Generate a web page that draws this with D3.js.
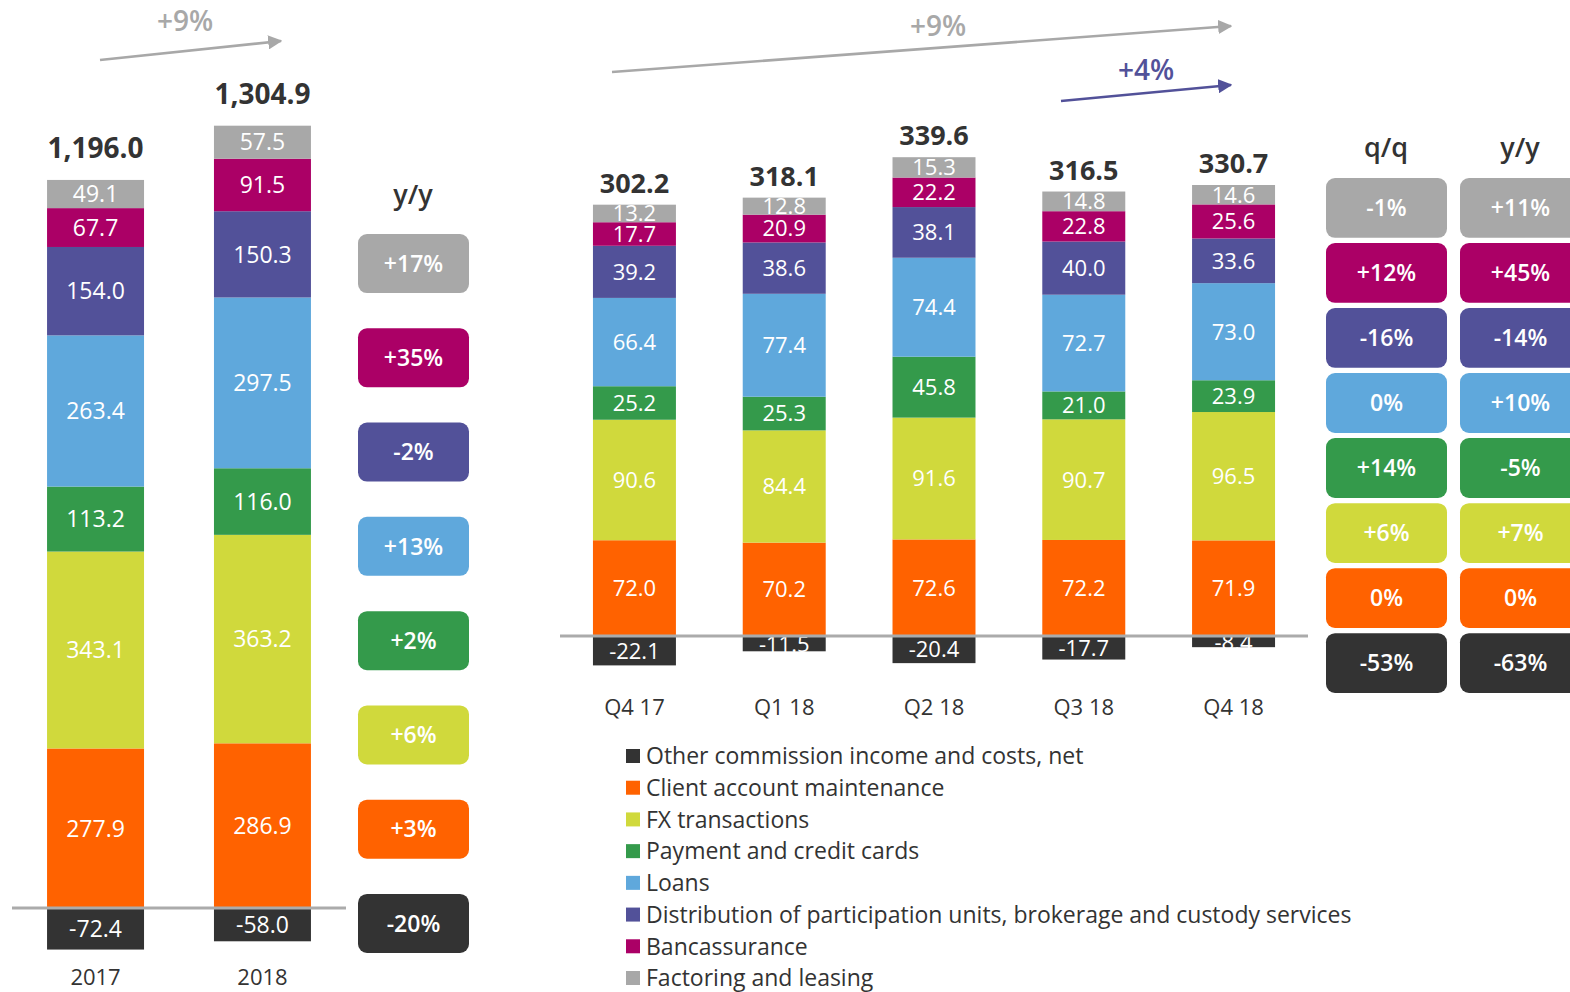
<!DOCTYPE html>
<html>
<head>
<meta charset="utf-8">
<script src="https://cdn.jsdelivr.net/npm/d3@7"></script>
<style>
  body { margin: 0; background: #fff; }
  svg { display: block; }
  text { font-family: "Open Sans", sans-serif; }
</style>
</head>
<body>
<svg id="chart" width="1570" height="992"></svg>
<script>
// series, bottom-up stacking order (= legend order)
var seriesKeys = ["other", "client", "fx", "payment", "loans", "dist", "banc", "fact"];
var seriesNames = [
  "Other commission income and costs, net",
  "Client account maintenance",
  "FX transactions",
  "Payment and credit cards",
  "Loans",
  "Distribution of participation units, brokerage and custody services",
  "Bancassurance",
  "Factoring and leasing"
];
var seriesColors = ["#333333", "#FF6200", "#D0D93C", "#349A4B", "#5FA8DC", "#525199", "#AB0066", "#A8A8A8"];

// annual
var years = ["2017", "2018"];
var yearTotals = ["1,196.0", "1,304.9"];
var other_y = [-72.4, -58.0];
var client_y = [277.9, 286.9];
var fx_y = [343.1, 363.2];
var payment_y = [113.2, 116.0];
var loans_y = [263.4, 297.5];
var dist_y = [154.0, 150.3];
var banc_y = [67.7, 91.5];
var fact_y = [49.1, 57.5];
var yoyAnnual = ["-20%", "+3%", "+6%", "+2%", "+13%", "-2%", "+35%", "+17%"];

// quarterly
var quarters = ["Q4 17", "Q1 18", "Q2 18", "Q3 18", "Q4 18"];
var quarterTotals = ["302.2", "318.1", "339.6", "316.5", "330.7"];
var other_q = [-22.1, -11.5, -20.4, -17.7, -8.4];
var client_q = [72.0, 70.2, 72.6, 72.2, 71.9];
var fx_q = [90.6, 84.4, 91.6, 90.7, 96.5];
var payment_q = [25.2, 25.3, 45.8, 21.0, 23.9];
var loans_q = [66.4, 77.4, 74.4, 72.7, 73.0];
var dist_q = [39.2, 38.6, 38.1, 40.0, 33.6];
var banc_q = [17.7, 20.9, 22.2, 22.8, 25.6];
var fact_q = [13.2, 12.8, 15.3, 14.8, 14.6];
var qoqQuarter = ["-53%", "0%", "+6%", "+14%", "0%", "-16%", "+12%", "-1%"];
var yoyQuarter = ["-63%", "0%", "+7%", "-5%", "+10%", "-14%", "+45%", "+11%"];

var color = d3.scaleOrdinal().domain(seriesKeys).range(seriesColors);
var svg = d3.select("#chart");

function buildRows(cats, cols) {
  return cats.map(function (c, i) {
    var row = { cat: c };
    seriesKeys.forEach(function (k, j) { row[k] = cols[j][i]; });
    return row;
  });
}

function drawStack(rows, totals, x, y, opt) {
  var stack = d3.stack().keys(seriesKeys).offset(d3.stackOffsetDiverging)(rows);
  var g = svg.append("g");

  var layer = g.selectAll("g.layer").data(stack).enter().append("g")
    .attr("fill", function (d) { return color(d.key); });

  layer.selectAll("rect").data(function (d) { return d; }).enter().append("rect")
    .attr("x", function (d) { return x(d.data.cat); })
    .attr("width", x.bandwidth())
    .attr("y", function (d) { return y(d[1]); })
    .attr("height", function (d) { return y(d[0]) - y(d[1]); });

  layer.selectAll("text").data(function (d) { return d; }).enter().append("text")
    .attr("x", function (d) { return x(d.data.cat) + x.bandwidth() / 2; })
    .attr("y", function (d) { return (y(d[0]) + y(d[1])) / 2; })
    .attr("dy", "0.36em")
    .attr("text-anchor", "middle")
    .attr("fill", "#fff")
    .attr("font-size", opt.labelSize)
    .text(function (d) { return (d[0] < 0 ? d[0] : d[1] - d[0]).toFixed(1); });

  // zero line
  g.append("line")
    .attr("x1", x.range()[0]).attr("x2", x.range()[1])
    .attr("y1", y(0)).attr("y2", y(0))
    .attr("stroke", "#ABABAB").attr("stroke-width", 3);

  // totals
  var top = stack[stack.length - 1];
  g.selectAll("text.total").data(top).enter().append("text")
    .attr("class", "total")
    .attr("x", function (d) { return x(d.data.cat) + x.bandwidth() / 2; })
    .attr("y", function (d) { return y(d[1]) - opt.totalGap; })
    .attr("text-anchor", "middle")
    .attr("fill", "#333")
    .attr("font-weight", "bold")
    .attr("font-size", opt.totalSize)
    .text(function (d, i) { return totals[i]; });

  // category axis
  var axis = g.append("g")
    .attr("transform", "translate(0," + opt.axisY + ")")
    .call(d3.axisBottom(x).tickSize(0).tickPadding(0));
  axis.select(".domain").remove();
  axis.selectAll("text")
    .attr("font-family", "Open Sans, sans-serif")
    .attr("font-size", opt.axisSize)
    .attr("fill", "#333")
    .attr("dy", 0);
}

// annual chart
var xA = d3.scaleBand().domain(years).range([12, 346]).paddingInner(0.419).paddingOuter(0.21);
var yA = d3.scaleLinear().domain([0, 1000]).range([908, 908 - 574]);
drawStack(buildRows(years, [other_y, client_y, fx_y, payment_y, loans_y, dist_y, banc_y, fact_y]),
  yearTotals, xA, yA, { labelSize: 23, totalSize: 28, totalGap: 22, axisY: 985, axisSize: 22 });

// quarterly chart
var xQ = d3.scaleBand().domain(quarters).range([560, 1308]).paddingInner(0.446).paddingOuter(0.22);
var yQ = d3.scaleLinear().domain([0, 100]).range([636, 636 - 133]);
drawStack(buildRows(quarters, [other_q, client_q, fx_q, payment_q, loans_q, dist_q, banc_q, fact_q]),
  quarterTotals, xQ, yQ, { labelSize: 22, totalSize: 27, totalGap: 12, axisY: 715, axisSize: 22 });

// badges
function drawBadges(values, x0, w, yScale, radius) {
  var g = svg.append("g");
  var b = g.selectAll("g").data(seriesKeys).enter().append("g");
  b.append("rect")
    .attr("x", x0).attr("width", w)
    .attr("y", function (k) { return yScale(k); })
    .attr("height", yScale.bandwidth())
    .attr("rx", radius)
    .attr("fill", function (k) { return color(k); });
  b.append("text")
    .attr("x", x0 + w / 2)
    .attr("y", function (k) { return yScale(k) + yScale.bandwidth() / 2; })
    .attr("dy", "0.36em")
    .attr("text-anchor", "middle")
    .attr("fill", "#fff")
    .attr("font-weight", 600)
    .attr("font-size", 23)
    .text(function (k, i) { return values[i]; });
}

var topDown = seriesKeys.slice().reverse();
var badgeA = d3.scaleBand().domain(topDown).range([234, 953]).paddingInner(0.374).paddingOuter(0);
drawBadges(yoyAnnual, 358, 111, badgeA, 9);

var badgeQ = d3.scaleBand().domain(topDown).range([178, 693]).paddingInner(0.08).paddingOuter(0);
drawBadges(qoqQuarter, 1326, 121, badgeQ, 9);
drawBadges(yoyQuarter, 1460, 121, badgeQ, 9);

// column headers
function header(txt, x, y) {
  svg.append("text").attr("x", x).attr("y", y)
    .attr("text-anchor", "middle").attr("fill", "#333")
    .attr("font-size", 27).attr("font-weight", 600)
    .text(txt);
}
header("y/y", 413, 204);
header("q/q", 1386, 157);
header("y/y", 1520, 157);

// legend
var legY = d3.scalePoint().domain(seriesKeys).range([756, 978]);
var leg = svg.append("g").selectAll("g").data(seriesKeys).enter().append("g")
  .attr("transform", function (k) { return "translate(626," + legY(k) + ")"; });
leg.append("rect").attr("x", 0).attr("y", -7).attr("width", 14).attr("height", 14)
  .attr("fill", function (k) { return color(k); });
leg.append("text").attr("x", 20).attr("dy", "0.36em")
  .attr("font-size", 23).attr("fill", "#333")
  .text(function (k, i) { return seriesNames[i]; });

// trend arrows
var defs = svg.append("defs");
function marker(id, fill) {
  defs.append("marker").attr("id", id)
    .attr("viewBox", "0 0 10 10").attr("refX", 9).attr("refY", 5)
    .attr("markerWidth", 5.5).attr("markerHeight", 5.5)
    .attr("markerUnits", "strokeWidth")
    .attr("orient", "auto")
    .append("path").attr("d", "M0,0L10,5L0,10Z").attr("fill", fill);
}
marker("arrGray", "#A8A8A8");
marker("arrPurple", "#525199");

function arrow(x1, y1, x2, y2, col, id, label, lx, ly) {
  svg.append("line").attr("x1", x1).attr("y1", y1).attr("x2", x2).attr("y2", y2)
    .attr("stroke", col).attr("stroke-width", 2.6)
    .attr("marker-end", "url(#" + id + ")");
  svg.append("text").attr("x", lx).attr("y", ly)
    .attr("text-anchor", "middle").attr("fill", col)
    .attr("font-size", 28).attr("font-weight", 600)
    .text(label);
}
arrow(100, 60, 281, 41, "#A8A8A8", "arrGray", "+9%", 185, 31);
arrow(612, 72, 1231, 26, "#A8A8A8", "arrGray", "+9%", 938, 36);
arrow(1061, 101, 1231, 85, "#525199", "arrPurple", "+4%", 1146, 80);
</script>
</body>
</html>
